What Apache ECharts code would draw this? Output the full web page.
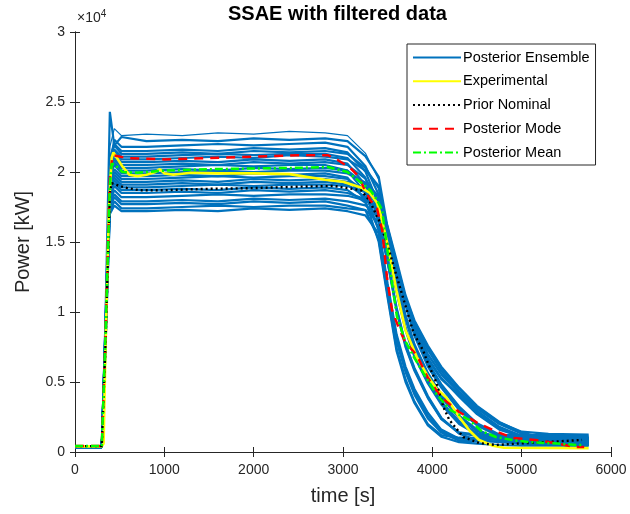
<!DOCTYPE html>
<html>
<head>
<meta charset="utf-8">
<script src="https://cdn.jsdelivr.net/npm/echarts@6.0.0/dist/echarts.min.js"></script>
<style>
html, body { margin: 0; padding: 0; background: #fff; }
#chart { width: 630px; height: 514px; }
</style>
</head>
<body>
<div id="chart"></div>
<script>
// time grid of the ensemble runs [s]
const tEns = [0, 300, 340, 390, 440, 520, 800, 1200, 1600, 2000, 2400, 2800, 3050, 3250, 3400, 3500, 3600, 3700, 3800, 3950, 4100, 4300, 4500, 4750, 5000, 5300, 5750]

// posterior ensemble runs, power [kW]
const ens01 = [350, 350, 8600, 21800, 23100, 22600, 22700, 22600, 22800, 22700, 22900, 22800, 22600, 21350, 19440, 15800, 13300, 10900, 8900, 6900, 5500, 4120, 2860, 1720, 1200, 1100, 1050]
const ens02 = [350, 350, 9200, 24300, 21900, 22500, 22200, 22300, 22200, 22400, 22300, 22400, 22200, 21130, 19650, 16000, 13500, 11000, 9300, 7500, 6000, 4500, 3200, 2100, 1450, 1300, 1250]
const ens03 = [350, 350, 7800, 20600, 22300, 21800, 21800, 21900, 22000, 21900, 22000, 22100, 21800, 20430, 18370, 15750, 13330, 10770, 8540, 6300, 4760, 3160, 2000, 1200, 950, 900, 880]
const ens04 = [350, 350, 8200, 21000, 22000, 21500, 21500, 21600, 21500, 21700, 21600, 21700, 21400, 20040, 17690, 15140, 12370, 9660, 7580, 5540, 4020, 2530, 1550, 960, 790, 720, 700]
const ens05 = [350, 350, 7500, 20800, 21900, 21300, 21300, 21400, 21300, 21500, 21400, 21500, 21300, 20300, 18850, 15700, 13100, 10700, 8700, 6700, 5300, 3950, 2700, 1600, 1100, 1000, 1000]
const ens06 = [350, 350, 8800, 20700, 21600, 21100, 21100, 21200, 21300, 21200, 21300, 21300, 21000, 19600, 17000, 14500, 11500, 8800, 6900, 5000, 3500, 2100, 1300, 900, 820, 800, 780]
const ens07 = [350, 350, 8000, 20300, 21500, 20900, 20900, 21000, 21100, 21000, 21200, 21100, 20900, 20120, 19000, 15900, 13400, 10900, 9100, 7300, 5800, 4300, 3100, 2000, 1300, 800, 620]
const ens08 = [350, 350, 8400, 20200, 21300, 20700, 20700, 20800, 20700, 20900, 20800, 20900, 20600, 19090, 16600, 13600, 10200, 7600, 5900, 3900, 2390, 1400, 1250, 1220, 1200, 1200, 1150]
const ens09 = [350, 350, 7600, 19900, 21000, 20500, 20500, 20600, 20500, 20700, 20600, 20700, 20500, 19520, 18010, 15600, 13100, 10500, 8300, 6100, 4600, 3000, 1900, 1100, 700, 550, 500]
const ens10 = [350, 350, 8900, 20000, 20900, 20300, 20300, 20400, 20500, 20400, 20500, 20500, 20100, 18530, 15800, 11800, 8200, 5900, 4300, 2600, 1500, 950, 920, 900, 900, 880, 900]
const ens11 = [350, 350, 7200, 19600, 20700, 20100, 20100, 20200, 20100, 20300, 20200, 20300, 20100, 19110, 17480, 15000, 12200, 9500, 7400, 5400, 3900, 2450, 1500, 930, 760, 710, 700]
const ens12 = [350, 350, 8300, 19800, 20500, 19900, 19900, 20000, 20100, 20000, 20100, 20100, 19900, 19250, 18260, 15900, 13400, 11000, 9000, 7000, 5600, 4250, 2950, 1800, 1150, 1000, 980]
const ens13 = [350, 350, 7000, 19300, 20200, 19700, 19700, 19800, 19700, 19900, 19800, 19900, 19600, 17980, 15000, 11000, 7200, 5000, 3500, 1900, 1100, 700, 600, 500, 460, 450, 440]
const ens14 = [350, 350, 8100, 19200, 20000, 19500, 19500, 19600, 19700, 19600, 19700, 19700, 19500, 18610, 17000, 14600, 11600, 8900, 7000, 5100, 3600, 2200, 1350, 900, 820, 800, 790]
const ens15 = [350, 350, 7700, 18900, 19800, 19300, 19300, 19400, 19300, 19500, 19400, 19500, 19300, 18680, 17670, 15800, 13400, 10900, 8700, 6400, 4850, 3250, 2050, 1250, 800, 650, 600]
const ens16 = [350, 350, 8500, 18800, 19600, 19100, 19100, 19200, 19100, 19300, 19200, 19300, 19100, 18210, 16500, 13500, 10100, 7500, 5800, 3850, 2350, 1350, 1150, 1120, 1100, 1100, 1080]
const ens17 = [350, 350, 7300, 18600, 19400, 18900, 18900, 19000, 19100, 19000, 19100, 19100, 19000, 18560, 18000, 16100, 13700, 11200, 9400, 7600, 6100, 4600, 3300, 2150, 1400, 900, 720]
const ens18 = [350, 350, 8700, 18500, 19200, 18700, 18700, 18800, 18700, 18900, 18800, 18900, 18700, 17810, 16000, 12000, 8400, 6100, 4500, 2800, 1600, 950, 920, 900, 900, 900, 880]
const ens19 = [350, 350, 7900, 18200, 19000, 18500, 18500, 18600, 18500, 18700, 18600, 18700, 18500, 18060, 17240, 15200, 12500, 9800, 7700, 5650, 4100, 2600, 1600, 900, 600, 520, 500]
const ens20 = [350, 350, 8200, 17900, 18700, 18200, 18200, 18300, 18400, 18300, 18400, 18400, 18300, 17980, 17550, 15600, 13000, 10600, 8600, 6600, 5200, 4050, 2800, 1680, 1050, 820, 800]
const ens21 = [350, 350, 7400, 17700, 18400, 17900, 17900, 18000, 17900, 18100, 18000, 18100, 17900, 17620, 16900, 14400, 11400, 8700, 6800, 4900, 3400, 2000, 1250, 800, 680, 650, 640]
const ens22 = [350, 350, 8600, 17500, 18200, 17700, 17700, 17800, 17700, 17900, 17800, 17900, 17600, 17280, 15200, 11200, 7400, 5200, 3600, 2000, 1200, 1020, 1000, 1000, 1000, 980, 1000]
const ens23 = [350, 350, 7100, 17200, 17900, 17400, 17400, 17500, 17600, 17500, 17600, 17600, 17400, 17280, 16400, 13700, 10300, 7700, 6000, 4000, 2450, 1300, 860, 700, 600, 560, 550]
const ens24 = [350, 350, 8000, 17000, 17600, 17200, 17200, 17300, 17200, 17400, 17300, 17400, 17200, 16900, 15600, 11500, 7900, 5700, 4100, 2400, 1400, 800, 760, 750, 750, 740, 750]
const ensembleRuns = [ens01, ens02, ens03, ens04, ens05, ens06, ens07, ens08, ens09, ens10, ens11, ens12,
    ens13, ens14, ens15, ens16, ens17, ens18, ens19, ens20, ens21, ens22, ens23, ens24]

// experimental
const expT = [0, 300, 320, 340, 380, 410, 430, 470, 530, 610, 700, 800, 900, 950, 1000, 1100, 1300, 1600, 2000, 2400, 2800, 3000, 3200, 3300, 3380, 3420, 3500, 3600, 3700, 3825, 3950, 4050, 4157, 4300, 4420, 4523, 4678, 4800, 5750]
const expP = [400, 400, 600, 7000, 17500, 21000, 21400, 21000, 20400, 19800, 19700, 19800, 20000, 20200, 19900, 19800, 19950, 19900, 19900, 19850, 19450, 19300, 18900, 18500, 17800, 17000, 14800, 11500, 8700, 6800, 5400, 4500, 3900, 2500, 1500, 860, 450, 300, 280]

// prior nominal
const nomT = [0, 300, 340, 390, 410, 500, 580, 720, 1000, 1500, 2000, 2500, 2900, 3100, 3200, 3293, 3400, 3492, 3570, 3680, 3790, 3900, 3936, 4047, 4124, 4190, 4346, 4523, 4712, 5000, 5300, 5676]
const nomP = [420, 420, 7500, 18500, 19200, 19000, 18860, 18700, 18700, 18800, 18850, 18950, 19000, 18800, 18700, 18000, 16600, 14930, 13210, 10860, 8500, 7200, 6570, 4930, 3210, 2290, 1070, 640, 500, 620, 720, 860]

// posterior mode
const modeT = [0, 300, 340, 390, 420, 576, 1000, 1500, 2000, 2500, 2827, 2940, 3082, 3160, 3304, 3380, 3440, 3492, 3548, 3625, 3700, 3825, 3950, 4100, 4300, 4500, 4678, 4900, 5155, 5400, 5600, 5700]
const modeP = [420, 420, 8000, 19500, 21200, 21000, 20900, 21000, 21100, 21200, 21200, 20860, 20290, 19790, 18000, 17430, 15800, 12500, 10140, 8860, 7800, 6930, 5300, 3900, 2860, 2100, 1570, 1000, 860, 600, 360, 350]

// posterior mean
const meanT = [0, 300, 340, 390, 410, 450, 530, 700, 1000, 1500, 2000, 2500, 2830, 3049, 3193, 3304, 3381, 3437, 3500, 3550, 3603, 3692, 3800, 3900, 4050, 4200, 4412, 4550, 4712, 4900, 5078, 5400, 5630, 5700]
const meanP = [420, 420, 8000, 19000, 20600, 20500, 20000, 19950, 20100, 20200, 20250, 20300, 20360, 20000, 19290, 18710, 18000, 17290, 14300, 12000, 9700, 8000, 6700, 5640, 4100, 3000, 2290, 1500, 1070, 850, 710, 600, 500, 500]

const xTicks = [0, 1000, 2000, 3000, 4000, 5000, 6000]
const yTicks = [0, 5000, 10000, 15000, 20000, 25000, 30000]

const axisColor = '#262626'
const ensColor = '#0072BD'
const pairs = (ts, vs) => ts.map((t, i) => [t, vs[i]])

const chart = echarts.init(document.getElementById('chart'))

// first run is drawn thin, the legend takes its line from it
const ensSeries = ensembleRuns.map((run, i) => ({
    name: 'Posterior Ensemble',
    type: 'line',
    data: pairs(tEns, run),
    symbol: 'none',
    silent: true,
    lineStyle: { color: ensColor, width: i === 0 ? 1.2 : 2.2 },
    itemStyle: { color: ensColor },
    z: 2
}))

const boxAxis = {
    axisLine: { show: true, lineStyle: { color: axisColor, width: 1 } },
    axisTick: { show: true, inside: true, length: 5, lineStyle: { color: axisColor } },
    axisLabel: { show: false },
    splitLine: { show: false }
}

chart.setOption({
    animation: false,
    backgroundColor: '#fff',
    grid: { left: 75, right: 19, top: 32, bottom: 62 },
    graphic: [
        {
            type: 'text', left: 228, top: 4,
            style: { text: 'SSAE with filtered data', font: 'bold 20px "Liberation Sans", Arial', fill: '#000' }
        },
        {
            type: 'text', left: 77, top: 9,
            style: {
                text: '{a|×10}{b|4}',
                rich: {
                    a: { font: '14px "Liberation Sans", Arial', fill: axisColor },
                    b: { font: '10px "Liberation Sans", Arial', fill: axisColor, verticalAlign: 'top', padding: [0, 0, 9, 0] }
                }
            }
        }
    ],
    legend: {
        orient: 'vertical',
        left: 407,
        top: 44,
        padding: [6, 6, 5, 5],
        itemWidth: 48,
        itemHeight: 12,
        itemGap: 8.75,
        backgroundColor: '#fff',
        borderColor: axisColor,
        borderWidth: 1,
        itemStyle: { opacity: 0 },
        textStyle: { fontFamily: '"Liberation Sans", Arial', fontSize: 14.5, color: '#000', padding: [0, 0, 0, -3] },
        data: ['Posterior Ensemble', 'Experimental', 'Prior Nominal', 'Posterior Mode', 'Posterior Mean']
    },
    xAxis: [
        {
            type: 'value', min: 0, max: 6000, interval: 1000,
            name: 'time [s]', nameLocation: 'middle', nameGap: 34,
            nameTextStyle: { fontFamily: '"Liberation Sans", Arial', fontSize: 20, color: axisColor },
            axisLine: { show: true, lineStyle: { color: axisColor, width: 1 } },
            axisTick: { show: true, inside: true, length: 5, lineStyle: { color: axisColor } },
            axisLabel: { fontFamily: '"Liberation Sans", Arial', fontSize: 14, color: axisColor, margin: 11,
                formatter: v => xTicks.includes(v) ? String(v) : '' },
            splitLine: { show: false }
        },
        Object.assign({ type: 'value', position: 'top', min: 0, max: 6000, interval: 1000 }, boxAxis)
    ],
    yAxis: [
        {
            type: 'value', min: 0, max: 30000, interval: 5000,
            name: 'Power [kW]', nameLocation: 'middle', nameGap: 42,
            nameTextStyle: { fontFamily: '"Liberation Sans", Arial', fontSize: 20, color: axisColor },
            axisLine: { show: true, lineStyle: { color: axisColor, width: 1 } },
            axisTick: { show: true, inside: true, length: 5, lineStyle: { color: axisColor } },
            axisLabel: { fontFamily: '"Liberation Sans", Arial', fontSize: 14, color: axisColor, margin: 10,
                formatter: v => yTicks.includes(v) ? String(v / 10000) : '' },
            splitLine: { show: false }
        },
        Object.assign({ type: 'value', position: 'right', min: 0, max: 30000, interval: 5000 }, boxAxis)
    ],
    series: ensSeries.concat([
        {
            name: 'Experimental', type: 'line', data: pairs(expT, expP), symbol: 'none', silent: true, z: 3,
            lineStyle: { color: '#FFFF00', width: 2.6 }, itemStyle: { color: '#FFFF00' }
        },
        {
            name: 'Prior Nominal', type: 'line', data: pairs(nomT, nomP), symbol: 'none', silent: true, z: 4,
            lineStyle: { color: '#000', width: 2.4, type: [2, 3] }, itemStyle: { color: '#000' }
        },
        {
            name: 'Posterior Mode', type: 'line', data: pairs(modeT, modeP), symbol: 'none', silent: true, z: 5,
            lineStyle: { color: '#FF0000', width: 2.5, type: [9, 7] }, itemStyle: { color: '#FF0000' }
        },
        {
            name: 'Posterior Mean', type: 'line', data: pairs(meanT, meanP), symbol: 'none', silent: true, z: 6,
            lineStyle: { color: '#00FF00', width: 2.5, type: [8, 3, 2, 3] }, itemStyle: { color: '#00FF00' }
        }
    ])
})
</script>
</body>
</html>
